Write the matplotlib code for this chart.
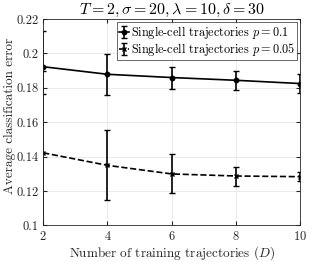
import numpy as np
import matplotlib
matplotlib.use("Agg")
import matplotlib.pyplot as plt

plt.rcParams["font.family"] = "serif"
plt.rcParams["font.serif"] = ["cmr10", "DejaVu Serif"]
plt.rcParams["mathtext.fontset"] = "cm"
plt.rcParams["axes.formatter.use_mathtext"] = True

D = [2, 4, 6, 8, 10]
err_p1 = [0.1923, 0.1879, 0.1860, 0.1844, 0.1825]
p1_lo = [0.0159, 0.0121, 0.0064, 0.0057, 0.0057]
p1_hi = [0.0208, 0.0116, 0.0060, 0.0057, 0.0057]
err_p05 = [0.1422, 0.1349, 0.1299, 0.1287, 0.1283]
p05_lo = [0.0470, 0.0204, 0.0113, 0.0057, 0.0026]
p05_hi = [0.0475, 0.0204, 0.0115, 0.0054, 0.0029]

fig = plt.figure(figsize=(3.32, 2.62), dpi=100)
ax = fig.add_axes([0.13, 0.14, 0.775, 0.787])

ax.errorbar(D, err_p1, yerr=[p1_lo, p1_hi], color="black", lw=1.2,
            marker="o", ms=3.2, capsize=2.2, elinewidth=1.2,
            label=r"Single-cell trajectories $p = 0.1$")
ax.errorbar(D, err_p05, yerr=[p05_lo, p05_hi], color="black", lw=1.2, ls="--",
            marker="x", ms=3.2, capsize=2.2, elinewidth=1.2,
            label=r"Single-cell trajectories $p = 0.05$")

ax.set_xlim(2, 10)
ax.set_ylim(0.1, 0.22)
ax.set_xticks(D)
ax.set_yticks([0.1, 0.12, 0.14, 0.16, 0.18, 0.2, 0.22])
ax.set_yticklabels(["0.1", "0.12", "0.14", "0.16", "0.18", "0.2", "0.22"])
ax.grid(True, color="#e6e6e6", lw=0.6)
ax.set_axisbelow(True)
ax.tick_params(direction="in", top=True, right=True, length=3, labelsize=9,
               color="#262626", labelcolor="#262626")
ax.tick_params(axis="x", pad=3.5)
ax.tick_params(axis="y", pad=3)
for s in ax.spines.values():
    s.set_color("#262626")
    s.set_linewidth(0.6)

ax.set_title(r"$T = 2, \sigma = 20, \lambda = 10, \delta = 30$", fontsize=11.5, pad=4)
ax.set_xlabel(r"Number of training trajectories $(D)$", fontsize=9.5,
              color="#262626")
ax.set_ylabel("Average classification error", fontsize=9.5, color="#262626")
ax.xaxis.set_label_coords(0.5, -0.092)
ax.yaxis.set_label_coords(-0.105, 0.53)

leg = ax.legend(loc="upper right", fontsize=8.8, frameon=True, fancybox=False,
                borderpad=0.15, handlelength=0.8, handletextpad=0.2,
                labelspacing=0.0, borderaxespad=0.25)
leg.get_frame().set_edgecolor("#262626")
leg.get_frame().set_linewidth(0.6)

fig.savefig("out.png", dpi=100)
